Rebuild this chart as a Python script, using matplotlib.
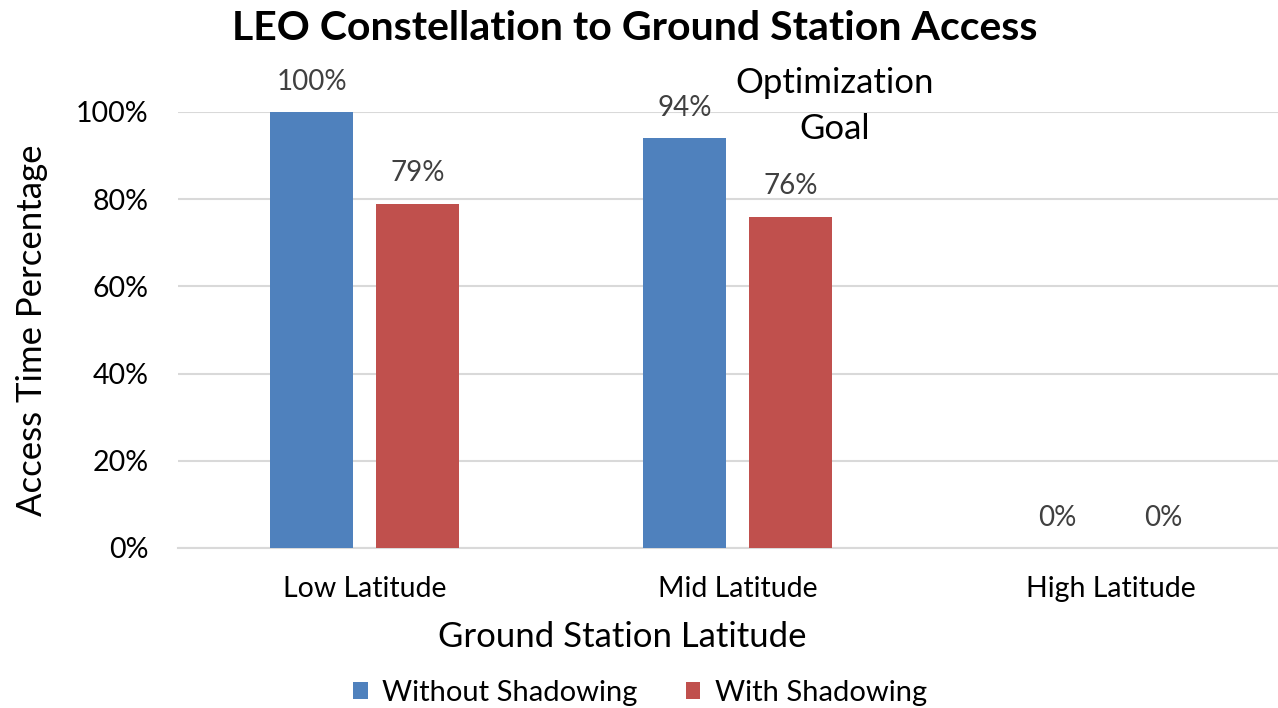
import matplotlib
matplotlib.use('Agg')
import matplotlib.pyplot as plt
import numpy as np

plt.rcParams['font.family'] = ['Lato', 'DejaVu Sans']

# acesso da constelação LEO por latitude
categorias = ['Low Latitude', 'Mid Latitude', 'High Latitude']
sem_sombra = [1.00, 0.94, 0.00]
com_sombra = [0.79, 0.76, 0.00]
series = ['Without Shadowing', 'With Shadowing']
cores = ['#4F81BD', '#C0504D']
yticks = [0, 0.2, 0.4, 0.6, 0.8, 1.0]

fig = plt.figure(figsize=(12.78, 7.08), dpi=100)
ax = fig.add_axes([178 / 1278, 1 - 548 / 708, 1119 / 1278, (548 - 112) / 708])

x = np.arange(len(categorias))
w = 0.225
desloc = 0.142
b1 = ax.bar(x - desloc, sem_sombra, w, color=cores[0], label=series[0], zorder=3)
b2 = ax.bar(x + desloc, com_sombra, w, color=cores[1], label=series[1], zorder=3)

for barras, valores in [(b1, sem_sombra), (b2, com_sombra)]:
    for b, v in zip(barras, valores):
        ax.text(b.get_x() + b.get_width() / 2, v + 0.04, f'{v:.0%}',
                ha='center', va='bottom', fontsize=20, color='#404040', clip_on=False)

ax.set_xlim(-0.5, 2.5)
ax.set_ylim(0, 1.0)
ax.set_yticks(yticks)
ax.set_yticklabels([f'{t:.0%}' for t in yticks], fontsize=20.5)
ax.set_xticks(x)
ax.set_xticklabels(categorias, fontsize=20.5)
ax.tick_params(length=0)
ax.tick_params(axis='y', pad=21)
ax.tick_params(axis='x', pad=20)
ax.grid(axis='y', color='#D9D9D9', linewidth=1.5, zorder=0)
ax.set_axisbelow(True)
for lado in ['top', 'right', 'left']:
    ax.spines[lado].set_visible(False)
ax.spines['bottom'].set_color('#D9D9D9')
ax.spines['bottom'].set_linewidth(1.5)

ax.set_ylabel('Access Time Percentage', fontsize=25, labelpad=20)

# título do eixo x centrado na parte visível da figura
fig.text(622 / 1278, 1 - 637 / 708, 'Ground Station Latitude',
         ha='center', va='center', fontsize=25)

fig.text(635 / 1278, 1 - 28 / 708, 'LEO Constellation to Ground Station Access',
         ha='center', va='center', fontsize=29.5, fontweight='bold')

fig.text(835 / 1278, 1 - 106 / 708, 'Optimization\nGoal', ha='center', va='center',
         fontsize=25, linespacing=1.55)

fig.legend(handles=[b1, b2], loc='center', bbox_to_anchor=(640 / 1278, 1 - 693 / 708),
           ncol=2, frameon=False, fontsize=21, handlelength=0.5, handleheight=0.5,
           handletextpad=0.5, columnspacing=1.65)

fig.savefig('out.png', dpi=100)
